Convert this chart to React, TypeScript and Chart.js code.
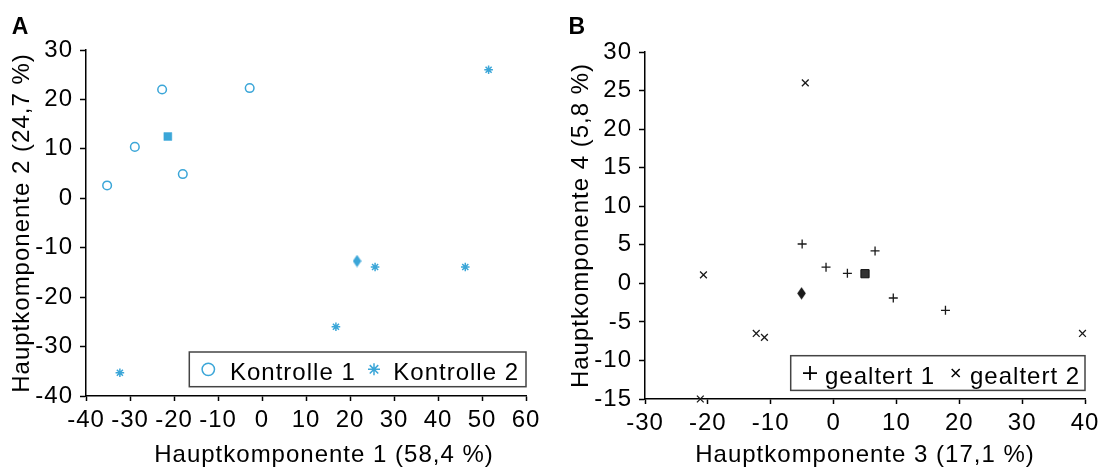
import React, { useEffect, useRef } from 'react';
import { Chart, registerables } from 'chart.js';

Chart.register(...registerables);

const FONT = "'Liberation Sans', Arial, Helvetica, sans-serif";
const BLUE = '#3ba6d8';
const DARK = '#1a1a1a';

// ---------- Panel A data ----------
const kontrolle1X = [-22.7, -2.8, -28.9, -35.2, -18.0];
const kontrolle1Y = [22.0, 22.3, 10.4, 2.6, 4.9];
const kontrolle1MeanX = [-21.4];
const kontrolle1MeanY = [12.5];
const kontrolle2X = [51.5, -32.3, 25.7, 46.2, 16.8];
const kontrolle2Y = [26.0, -35.3, -13.9, -13.9, -26.0];
const kontrolle2MeanX = [21.6];
const kontrolle2MeanY = [-12.7];
const panelAXTicks = [-40, 60, 10];
const panelAYTicks = [-40, 30, 10];
const panelALabels = ['Kontrolle 1', 'Kontrolle 2'];
const panelAXTitle = 'Hauptkomponente 1 (58,4 %)';
const panelAYTitle = 'Hauptkomponente 2 (24,7 %)';

// ---------- Panel B data ----------
const gealtert1X = [-5.0, -1.2, 6.6, 2.2, 9.5, 17.8];
const gealtert1Y = [5.1, 2.1, 4.2, 1.3, -1.9, -3.5];
const gealtert1MeanX = [5.0];
const gealtert1MeanY = [1.25];
const gealtert2X = [-4.5, -20.7, -12.3, -11.0, -21.2, 39.6];
const gealtert2Y = [26.0, 1.1, -6.5, -7.0, -15.0, -6.5];
const gealtert2MeanX = [-5.1];
const gealtert2MeanY = [-1.3];
const panelBXTicks = [-30, 40, 10];
const panelBYTicks = [-15, 30, 5];
const panelBLabels = ['gealtert 1', 'gealtert 2'];
const panelBXTitle = 'Hauptkomponente 3 (17,1 %)';
const panelBYTitle = 'Hauptkomponente 4 (5,8 %)';

const zip = (xs: number[], ys: number[]) => xs.map((x, i) => ({ x, y: ys[i] }));

function diamond(color: string) {
  const c = document.createElement('canvas');
  c.width = 9;
  c.height = 13;
  const g = c.getContext('2d')!;
  g.fillStyle = color;
  g.beginPath();
  g.moveTo(4.5, 0.3);
  g.lineTo(8.8, 6.5);
  g.lineTo(4.5, 12.7);
  g.lineTo(0.2, 6.5);
  g.closePath();
  g.fill();
  return c;
}

function axis(
  range: number[],
  title: string,
  isY: boolean,
  size: number,
  showTitle: boolean
) {
  return {
    type: 'linear',
    min: range[0],
    max: range[1],
    ticks: {
      stepSize: range[2],
      color: '#000',
      font: { family: FONT, size: 24 },
      padding: isY ? 7 : 5,
      autoSkip: false,
      maxRotation: 0,
      minRotation: 0,
      callback: (v: number) => String(v),
    },
    grid: {
      display: true,
      drawOnChartArea: false,
      drawTicks: true,
      tickLength: isY ? 6 : 5,
      tickWidth: 1.5,
      tickColor: '#000',
    },
    border: { display: true, color: '#000', width: 1.5 },
    title: {
      display: showTitle,
      text: title,
      color: '#000',
      font: { family: FONT, size: 24 },
      padding: isY ? { top: 7.6, bottom: 0 } : { top: 0, bottom: 0 },
    },
    afterFit: (s: any) => {
      if (isY) s.width = size;
      else s.height = size;
    },
  };
}

const spacingPlugin = {
  id: 'spacing',
  beforeLayout(chart: any) {
    chart.ctx.letterSpacing = '1px';
  },
  beforeDraw(chart: any) {
    chart.ctx.letterSpacing = '1px';
  },
};

function drawMarker(ctx: CanvasRenderingContext2D, kind: string, x: number, y: number, color: string) {
  ctx.save();
  ctx.strokeStyle = color;
  ctx.lineWidth = 1.5;
  ctx.beginPath();
  if (kind === 'circle') {
    ctx.arc(x, y, 6.2, 0, Math.PI * 2);
  } else if (kind === 'asterisk') {
    for (let k = 0; k < 4; k++) {
      const a = (k * Math.PI) / 4;
      ctx.moveTo(x - Math.cos(a) * 6, y - Math.sin(a) * 6);
      ctx.lineTo(x + Math.cos(a) * 6, y + Math.sin(a) * 6);
    }
  } else if (kind === 'plus') {
    ctx.lineWidth = 1.8;
    ctx.moveTo(x - 7, y);
    ctx.lineTo(x + 7, y);
    ctx.moveTo(x, y - 7);
    ctx.lineTo(x, y + 7);
  } else if (kind === 'times') {
    ctx.lineWidth = 1.5;
    ctx.moveTo(x - 4, y - 4);
    ctx.lineTo(x + 4, y + 4);
    ctx.moveTo(x + 4, y - 4);
    ctx.lineTo(x - 4, y + 4);
  }
  ctx.stroke();
  ctx.restore();
}

function legendPlugin(
  labels: string[],
  markers: string[],
  colors: string[],
  box: { w: number; h: number; gap: number; base: number; mx: number[]; tx: number[] }
) {
  return {
    id: 'boxLegend',
    afterDraw(chart: any) {
      const { ctx, chartArea } = chart;
      const right = chartArea.right;
      const bottom = chartArea.bottom - box.gap;
      const left = right - box.w;
      const top = bottom - box.h;
      ctx.save();
      ctx.letterSpacing = '1px';
      ctx.fillStyle = '#fff';
      ctx.fillRect(left, top, box.w, box.h);
      ctx.strokeStyle = '#444';
      ctx.lineWidth = 1.5;
      ctx.strokeRect(left, top, box.w, box.h);
      const cy = top + box.h / 2;
      labels.forEach((lab, i) => {
        drawMarker(ctx, markers[i], left + box.mx[i], cy, colors[i]);
        ctx.fillStyle = '#000';
        ctx.font = `24px ${FONT}`;
        ctx.textAlign = 'left';
        ctx.textBaseline = 'alphabetic';
        ctx.fillText(lab, left + box.tx[i], top + box.base);
      });
      ctx.restore();
    },
  };
}

function letterPlugin(letter: string, x: number, y: number) {
  return {
    id: 'panelLetter',
    afterDraw(chart: any) {
      const { ctx } = chart;
      ctx.save();
      ctx.fillStyle = '#000';
      ctx.font = `bold 23px ${FONT}`;
      ctx.textAlign = 'left';
      ctx.textBaseline = 'alphabetic';
      ctx.fillText(letter, x, y);
      ctx.restore();
    },
  };
}

// x-axis title drawn under the x scale with a small horizontal offset (as in the reference)
function xTitlePlugin(text: string, dx: number) {
  return {
    id: 'xTitle',
    afterDraw(chart: any) {
      const { ctx, chartArea } = chart;
      const xs = chart.scales.x;
      ctx.save();
      ctx.letterSpacing = '1px';
      ctx.fillStyle = '#000';
      ctx.font = `24px ${FONT}`;
      ctx.textAlign = 'center';
      ctx.textBaseline = 'middle';
      ctx.fillText(text, (chartArea.left + chartArea.right) / 2 + dx, xs.bottom - 14.4);
      ctx.restore();
    },
  };
}

function configA(): any {
  return {
    type: 'scatter',
    data: {
      datasets: [
        {
          label: panelALabels[0],
          data: zip(kontrolle1X, kontrolle1Y),
          pointStyle: 'circle',
          pointRadius: 4.3,
          borderWidth: 1.5,
          borderColor: BLUE,
          backgroundColor: 'rgba(0,0,0,0)',
          clip: false,
        },
        {
          label: panelALabels[1],
          data: zip(kontrolle2X, kontrolle2Y),
          pointStyle: 'star',
          pointRadius: 4.3,
          borderWidth: 1.5,
          borderColor: BLUE,
          backgroundColor: BLUE,
          clip: false,
        },
        {
          label: 'Mittel 1',
          data: zip(kontrolle1MeanX, kontrolle1MeanY),
          pointStyle: 'rect',
          pointRadius: 5.6,
          borderWidth: 0.5,
          borderColor: BLUE,
          backgroundColor: BLUE,
          clip: false,
        },
        {
          label: 'Mittel 2',
          data: zip(kontrolle2MeanX, kontrolle2MeanY),
          pointStyle: diamond(BLUE),
          pointRadius: 6,
          clip: false,
        },
      ],
    },
    options: {
      responsive: false,
      animation: false,
      events: [],
      layout: { padding: { left: 0, top: 50, right: 22, bottom: 0 } },
      plugins: { legend: { display: false }, tooltip: { enabled: false } },
      scales: {
        x: axis(panelAXTicks, panelAXTitle, false, 74, false),
        y: axis(panelAYTicks, panelAYTitle, true, 86, true),
      },
    },
    plugins: [
      spacingPlugin,
      legendPlugin(panelALabels, ['circle', 'asterisk'], [BLUE, BLUE], {
        w: 336.7,
        h: 34.7,
        gap: 9.3,
        base: 28,
        mx: [19, 184.7],
        tx: [40.7, 204],
      }),
      xTitlePlugin(panelAXTitle, 18),
      letterPlugin('A', 11.7, 34.3),
    ],
  };
}

function configB(): any {
  return {
    type: 'scatter',
    data: {
      datasets: [
        {
          label: panelBLabels[0],
          data: zip(gealtert1X, gealtert1Y),
          pointStyle: 'cross',
          pointRadius: 4.5,
          borderWidth: 1.3,
          borderColor: DARK,
          backgroundColor: DARK,
          clip: false,
        },
        {
          label: panelBLabels[1],
          data: zip(gealtert2X, gealtert2Y),
          pointStyle: 'crossRot',
          pointRadius: 4.8,
          borderWidth: 1.3,
          borderColor: DARK,
          backgroundColor: DARK,
          clip: false,
        },
        {
          label: 'Mittel 1',
          data: zip(gealtert1MeanX, gealtert1MeanY),
          pointStyle: 'rect',
          pointRadius: 5.8,
          borderWidth: 1,
          borderColor: '#111',
          backgroundColor: '#333',
          clip: false,
        },
        {
          label: 'Mittel 2',
          data: zip(gealtert2MeanX, gealtert2MeanY),
          pointStyle: diamond(DARK),
          pointRadius: 6,
          clip: false,
        },
      ],
    },
    options: {
      responsive: false,
      animation: false,
      events: [],
      layout: { padding: { left: 0, top: 52, right: 22, bottom: 0 } },
      plugins: { legend: { display: false }, tooltip: { enabled: false } },
      scales: {
        x: axis(panelBXTicks, panelBXTitle, false, 71, true),
        y: axis(panelBYTicks, panelBYTitle, true, 86, true),
      },
    },
    plugins: [
      spacingPlugin,
      legendPlugin(panelBLabels, ['plus', 'times'], ['#000', '#000'], {
        w: 294.3,
        h: 34.7,
        gap: 8.6,
        base: 28,
        mx: [19.3, 165],
        tx: [34.3, 179.3],
      }),
      letterPlugin('B', 9.5, 34.3),
    ],
  };
}

function Panel({ make, left }: { make: () => any; left: number }) {
  const ref = useRef<HTMLCanvasElement>(null);
  useEffect(() => {
    const chart = new Chart(ref.current as HTMLCanvasElement, make());
    return () => chart.destroy();
  }, []);
  return (
    <canvas
      ref={ref}
      width={548}
      height={470}
      style={{ position: 'absolute', left, top: 0, width: 548, height: 470 }}
    />
  );
}

export default function App() {
  return (
    <div
      style={{
        position: 'absolute',
        left: 0,
        top: 0,
        width: 1107,
        height: 470,
        background: '#fff',
        overflow: 'hidden',
      }}
    >
      <Panel make={configA} left={0} />
      <Panel make={configB} left={559} />
    </div>
  );
}
